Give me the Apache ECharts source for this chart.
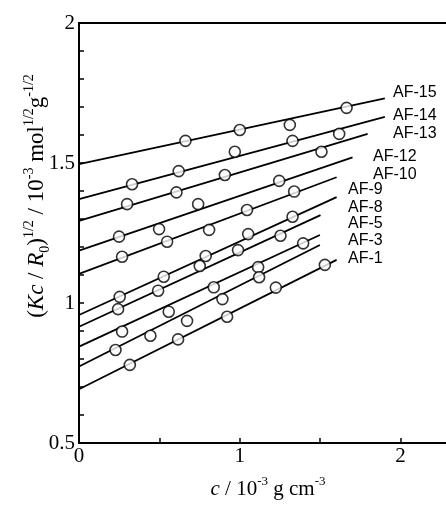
<!DOCTYPE html>
<html><head><meta charset="utf-8">
<script src="https://cdn.jsdelivr.net/npm/echarts@6/dist/echarts.min.js"></script>
<style>html,body{margin:0;padding:0;background:#fff}#c{width:446px;height:509px}</style>
</head><body><div id="c"></div>
<script>
// Series names (top to bottom)
var seriesNames = ['AF-15','AF-14','AF-13','AF-12','AF-10','AF-9','AF-8','AF-5','AF-3','AF-1'];
// Measured points
var xAF15 = [0.662, 1.000, 1.311, 1.664];
var yAF15 = [1.579, 1.618, 1.636, 1.697];
var xAF14 = [0.330, 0.620, 0.969, 1.328, 1.618];
var yAF14 = [1.424, 1.471, 1.540, 1.579, 1.604];
var xAF13 = [0.299, 0.606, 0.907, 1.508];
var yAF13 = [1.353, 1.395, 1.457, 1.540];
var xAF12 = [0.249, 0.498, 0.741, 1.245];
var yAF12 = [1.237, 1.264, 1.353, 1.436];
var xAF10 = [0.268, 0.548, 0.809, 1.045, 1.338];
var yAF10 = [1.165, 1.219, 1.261, 1.332, 1.398];
var xAF9 = [0.253, 0.527, 0.788, 1.052, 1.328];
var yAF9 = [1.022, 1.094, 1.168, 1.246, 1.308];
var xAF8 = [0.243, 0.492, 0.751, 0.989, 1.253];
var yAF8 = [0.978, 1.044, 1.132, 1.189, 1.240];
var xAF5 = [0.268, 0.558, 0.838, 1.114, 1.394];
var yAF5 = [0.898, 0.969, 1.056, 1.128, 1.213];
var xAF3 = [0.227, 0.444, 0.672, 0.892, 1.120];
var yAF3 = [0.832, 0.883, 0.936, 1.014, 1.092];
var xAF1 = [0.316, 0.616, 0.921, 1.224, 1.529];
var yAF1 = [0.779, 0.870, 0.951, 1.055, 1.136];
// Fitted lines: value at c=0, end c, value at end
var lineStartY = [1.496, 1.371, 1.293, 1.187, 1.104, 0.957, 0.915, 0.844, 0.773, 0.692];
var lineEndX   = [1.902, 1.902, 1.795, 1.701, 1.602, 1.602, 1.502, 1.498, 1.498, 1.602];
var lineEndY   = [1.731, 1.665, 1.604, 1.520, 1.449, 1.378, 1.314, 1.243, 1.207, 1.154];
// Axis tick labels
var xTickLabels = ['0', '1', '2'];
var yTickLabels = ['0.5', '1', '1.5', '2'];

var pointsX = [xAF15, xAF14, xAF13, xAF12, xAF10, xAF9, xAF8, xAF5, xAF3, xAF1];
var pointsY = [yAF15, yAF14, yAF13, yAF12, yAF10, yAF9, yAF8, yAF5, yAF3, yAF1];

// label pixel placement (left x, middle y)
var labelPix = [[393,93],[393,116],[393,134],[373,157],[373,175],[348,190],[348,208],[348,224],[348,241],[348,259]];

var serif = '"Liberation Serif","Times New Roman",serif';
var sans = '"Liberation Sans",Arial,sans-serif';

var series = [];
seriesNames.forEach(function (n, i) {
  series.push({
    name: n + ' fit', type: 'line', data: [[0, lineStartY[i]], [lineEndX[i], lineEndY[i]]],
    symbol: 'none', lineStyle: { color: '#000', width: 1.8 }, z: 2, silent: true
  });
  series.push({
    name: n, type: 'scatter', data: pointsX[i].map(function (x, k) { return [x, pointsY[i][k]]; }),
    symbol: 'circle', symbolSize: 11,
    itemStyle: { color: '#fff', borderColor: '#000', borderWidth: 1.6 }, z: 3
  });
});

var graphics = seriesNames.map(function (n, i) {
  return { type: 'text', x: labelPix[i][0], y: labelPix[i][1],
    style: { text: n, fill: '#000', font: '16px ' + sans, verticalAlign: 'middle', align: 'left' } };
});
graphics.push({
  type: 'text', x: 268, y: 489,
  style: {
    text: '{i|c} / 10{sup|-3} g cm{sup|-3}',
    align: 'center', verticalAlign: 'middle', fill: '#000',
    font: '21px ' + serif, lineHeight: 28,
    rich: {
      i: { fontStyle: 'italic', fontSize: 21, fontFamily: serif, lineHeight: 28 },
      sup: { fontSize: 13, fontFamily: serif, verticalAlign: 'top', lineHeight: 28 }
    }
  }
});
graphics.push({
  type: 'text', x: 37, y: 196, rotation: Math.PI / 2,
  style: {
    text: '({i|Kc} / {i|R}{sub|0}){sup|1/2} / 10{sup|-3} mol{sup|1/2}g{sup|-1/2}',
    align: 'center', verticalAlign: 'middle', fill: '#000',
    font: '23px ' + serif, lineHeight: 30,
    rich: {
      i: { fontStyle: 'italic', fontSize: 23, fontFamily: serif, lineHeight: 30 },
      sup: { fontSize: 14, fontFamily: serif, verticalAlign: 'top', lineHeight: 30 },
      sub: { fontSize: 14, fontFamily: serif, verticalAlign: 'bottom', lineHeight: 30 }
    }
  }
});

function fmt(v) { return String(Math.round(v * 10) / 10); }

var option = {
  animation: false,
  backgroundColor: '#fff',
  grid: { left: 79, top: 23, width: 402, height: 420, outerBoundsMode: 'none', containLabel: false,
    show: true, borderColor: '#000', borderWidth: 2, backgroundColor: 'transparent' },
  xAxis: {
    type: 'value', min: 0, max: 2.5, interval: 0.5,
    axisLine: { lineStyle: { color: '#000', width: 2 } },
    axisTick: { inside: true, length: 5, lineStyle: { color: '#000', width: 1.5 } },
    splitLine: { show: false },
    axisLabel: { margin: 3, color: '#000', fontFamily: serif, fontSize: 21,
      formatter: function (v) { var s = fmt(v); return xTickLabels.indexOf(s) >= 0 ? s : ''; } }
  },
  yAxis: {
    type: 'value', min: 0.5, max: 2, interval: 0.1,
    axisLine: { lineStyle: { color: '#000', width: 2 } },
    axisTick: { inside: true, length: 5, lineStyle: { color: '#000', width: 1.5 } },
    splitLine: { show: false },
    axisLabel: { margin: 4, color: '#000', fontFamily: serif, fontSize: 21,
      formatter: function (v) { var s = fmt(v); return yTickLabels.indexOf(s) >= 0 ? s : ''; } }
  },
  series: series,
  graphic: graphics
};
var chart = echarts.init(document.getElementById('c'));
chart.setOption(option);
</script></body></html>
